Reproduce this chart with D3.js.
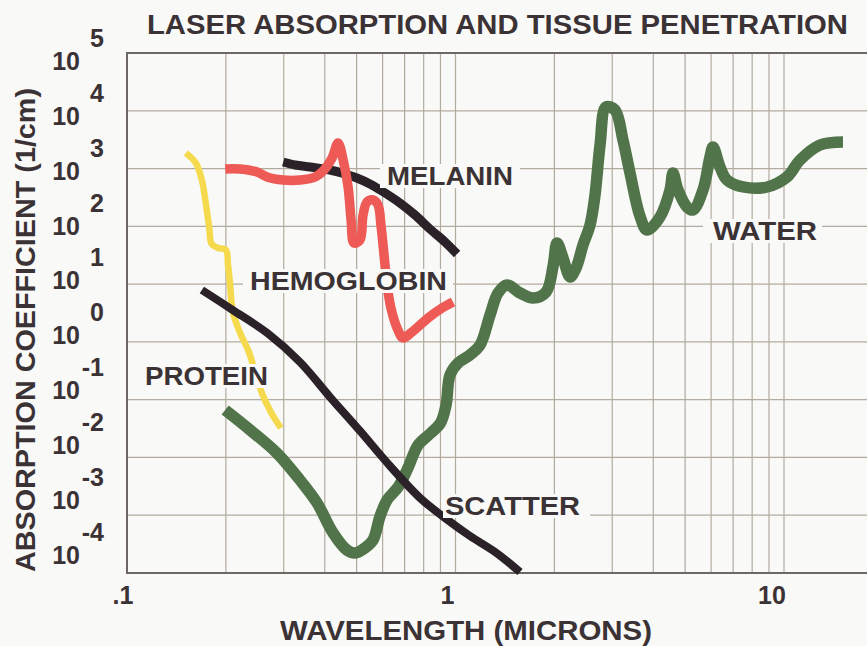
<!DOCTYPE html>
<html>
<head>
<meta charset="utf-8">
<script src="https://cdn.jsdelivr.net/npm/d3@7"></script>
<style>
  body { margin: 0; background: #f9f9f7; }
  text { font-family: "Liberation Sans", Arial, sans-serif; font-weight: bold; fill: #3b3235; }
</style>
</head>
<body>
<div id="chart"></div>
<script>
// [wavelength in microns, absorption coefficient in 1/cm]
const protein = [
  [0.151, 1860], [0.162, 1250], [0.169, 634], [0.174, 234], [0.178, 93.5],
  [0.181, 49.4], [0.189, 42.2], [0.2, 39.0], [0.203, 21.4], [0.206, 9.66],
  [0.21, 3.29], [0.221, 1.43], [0.235, 0.668], [0.247, 0.267], [0.259, 0.12],
  [0.274, 0.0612], [0.294, 0.0324]
];

const hemoglobin = [
  [0.199, 982], [0.221, 982], [0.249, 872], [0.267, 714], [0.299, 634],
  [0.336, 634], [0.374, 714], [0.398, 944], [0.421, 1523], [0.439, 2770],
  [0.455, 1406], [0.471, 480], [0.481, 129], [0.491, 51.5], [0.512, 58.1],
  [0.523, 157], [0.538, 264], [0.561, 286], [0.581, 234], [0.593, 105],
  [0.606, 31.9], [0.619, 9.66], [0.636, 3.86], [0.664, 1.74], [0.692, 1.17],
  [0.737, 1.48], [0.825, 2.59], [0.91, 3.86], [0.983, 4.91]
];

const melanin = [
  [0.299, 1300], [0.325, 1153], [0.361, 1064], [0.415, 944], [0.461, 805],
  [0.501, 687], [0.549, 541], [0.597, 409], [0.678, 253], [0.753, 157],
  [0.836, 89.9], [0.929, 53.6], [1.011, 33.2]
];

const scatter = [
  [0.169, 7.91], [0.21, 3.56], [0.267, 1.43], [0.336, 0.449], [0.415, 0.111],
  [0.512, 0.0287], [0.632, 0.00711], [0.78, 0.00199], [0.929, 0.000895],
  [1.107, 0.000437], [1.32, 0.000231], [1.572, 0.000104]
];

const water = [
  [0.199, 0.0662], [0.237, 0.0299], [0.286, 0.0119], [0.336, 0.00407],
  [0.379, 0.00163], [0.424, 0.000493], [0.467, 0.00025], [0.494, 0.000222],
  [0.53, 0.000271], [0.561, 0.000372], [0.589, 0.00095], [0.619, 0.00184],
  [0.67, 0.0031], [0.716, 0.0065], [0.77, 0.0165], [0.84, 0.0262],
  [0.9, 0.0394], [0.936, 0.0809], [0.962, 0.267], [1.018, 0.432],
  [1.107, 0.593], [1.188, 0.883], [1.274, 2.92], [1.347, 7.02], [1.435, 9.66],
  [1.572, 7.02], [1.722, 5.75], [1.887, 7.31], [1.982, 20.6], [2.037, 51.5],
  [2.125, 28.3], [2.232, 13.3], [2.328, 19.0], [2.444, 47.5], [2.567, 105],
  [2.659, 348], [2.754, 2560], [2.872, 11620], [3.058, 10310], [3.235, 3120],
  [3.398, 838], [3.643, 151], [3.828, 86.4], [4.193, 145], [4.498, 425],
  [4.593, 838], [4.757, 425], [5.068, 216], [5.285, 192], [5.667, 425],
  [5.953, 1585], [6.08, 2360], [6.386, 1064], [6.708, 634], [7.504, 480],
  [8.878, 480], [10.21, 714], [11.19, 1406], [12.87, 2560], [15.12, 2880]
];

const xTickValues = [0.1, 1, 10];
const xTickLabels = [".1", "1", "10"];
const yExponents = [5, 4, 3, 2, 1, 0, -1, -2, -3, -4];

const w = 867;
const h = 646;
const plotLeft = 127;
const plotTop = 53;
const plotBottom = 573;
const decade = 328.5;

const x = d3.scaleLog().domain([0.1, 100]).range([plotLeft, plotLeft + 3 * decade]);
const y = d3.scaleLog().domain([1e-4, 1e5]).range([plotBottom, plotTop]);

const svg = d3.select("#chart").append("svg")
  .attr("width", w)
  .attr("height", h);

svg.append("rect")
  .attr("width", w)
  .attr("height", h)
  .attr("fill", "#f9f9f7");

// grid
const grid = svg.append("g")
  .attr("stroke", "#b3ab9f")
  .attr("stroke-width", 1.2);

grid.selectAll("line.v")
  .data(x.ticks().filter(function (v) { return x(v) > plotLeft + 1 && x(v) < w; }))
  .enter()
  .append("line")
  .attr("class", "v")
  .attr("x1", function (d) { return x(d); })
  .attr("x2", function (d) { return x(d); })
  .attr("y1", plotTop)
  .attr("y2", plotBottom);

grid.selectAll("line.h")
  .data(yExponents.slice(1, -1))
  .enter()
  .append("line")
  .attr("class", "h")
  .attr("x1", plotLeft)
  .attr("x2", w)
  .attr("y1", function (e) { return y(Math.pow(10, e)); })
  .attr("y2", function (e) { return y(Math.pow(10, e)); });

// frame
svg.append("path")
  .attr("stroke", "#6f6763")
  .attr("stroke-width", 2)
  .attr("fill", "none")
  .attr("d", `M${w},${plotTop}H${plotLeft}V${plotBottom}H${w}`);

// curves
const line = d3.line()
  .x(function (d) { return x(d[0]); })
  .y(function (d) { return y(d[1]); })
  .curve(d3.curveCatmullRom.alpha(0.5));

const curves = [
  { data: water, color: "#52744a", width: 11.5 },
  { data: protein, color: "#f5da4e", width: 6.5 },
  { data: scatter, color: "#2a2228", width: 8 },
  { data: melanin, color: "#2a2228", width: 9 },
  { data: hemoglobin, color: "#ee5a56", width: 9.5 }
];

svg.append("g")
  .attr("fill", "none")
  .attr("stroke-linejoin", "round")
  .selectAll("path")
  .data(curves)
  .enter()
  .append("path")
  .attr("stroke", function (d) { return d.color; })
  .attr("stroke-width", function (d) { return d.width; })
  .attr("d", function (d) { return line(d.data); });

// curve labels with a paper-coloured backing that breaks the grid
const labels = [
  { text: "MELANIN", x: 387, y: 185, len: 126, pad: [7, 7] },
  { text: "HEMOGLOBIN", x: 250, y: 290, len: 197, pad: [7, 6] },
  { text: "PROTEIN", x: 145, y: 385, len: 123, pad: [5, 4] },
  { text: "SCATTER", x: 445, y: 515, len: 135, pad: [2, 10] },
  { text: "WATER", x: 713, y: 240, len: 104, pad: [10, 5] }
];

const lab = svg.append("g").selectAll("g")
  .data(labels)
  .enter()
  .append("g");

lab.append("rect")
  .attr("x", function (d) { return d.x - d.pad[0]; })
  .attr("y", function (d) { return d.y - 21; })
  .attr("width", function (d) { return d.len + d.pad[0] + d.pad[1]; })
  .attr("height", 24)
  .attr("fill", "#f9f9f7");

lab.append("text")
  .attr("x", function (d) { return d.x; })
  .attr("y", function (d) { return d.y; })
  .attr("font-size", 26)
  .attr("textLength", function (d) { return d.len; })
  .attr("lengthAdjust", "spacingAndGlyphs")
  .text(function (d) { return d.text; });

// y tick labels: 10 with a raised exponent
function labelY(e) {
  return 61.5 + (y(Math.pow(10, e)) - plotTop) * (493.5 / 520);
}

const yt = svg.append("g").selectAll("g")
  .data(yExponents)
  .enter()
  .append("g");

yt.append("text")
  .attr("x", 80)
  .attr("y", function (e) { return labelY(e) + 8.5; })
  .attr("text-anchor", "end")
  .attr("font-size", 25)
  .text("10");

yt.append("text")
  .attr("x", 104)
  .attr("y", function (e) { return labelY(e) - 14.5; })
  .attr("text-anchor", "end")
  .attr("font-size", 25)
  .text(function (e) { return e; });

// x tick labels
svg.append("g").selectAll("text")
  .data(xTickValues)
  .enter()
  .append("text")
  .attr("x", function (d, i) { return x(d) - 4 - 4 * i; })
  .attr("y", 604)
  .attr("text-anchor", "middle")
  .attr("font-size", 25)
  .text(function (d, i) { return xTickLabels[i]; });

// titles
svg.append("text")
  .attr("x", 147)
  .attr("y", 34)
  .attr("font-size", 27)
  .attr("textLength", 701)
  .attr("lengthAdjust", "spacingAndGlyphs")
  .text("LASER ABSORPTION AND TISSUE PENETRATION");

svg.append("text")
  .attr("x", 466)
  .attr("y", 640)
  .attr("text-anchor", "middle")
  .attr("font-size", 27)
  .attr("textLength", 372)
  .attr("lengthAdjust", "spacingAndGlyphs")
  .text("WAVELENGTH (MICRONS)");

svg.append("text")
  .attr("transform", "translate(35,330) rotate(-90)")
  .attr("text-anchor", "middle")
  .attr("font-size", 27)
  .attr("textLength", 484)
  .attr("lengthAdjust", "spacingAndGlyphs")
  .text("ABSORPTION COEFFICIENT (1/cm)");
</script>
</body>
</html>
